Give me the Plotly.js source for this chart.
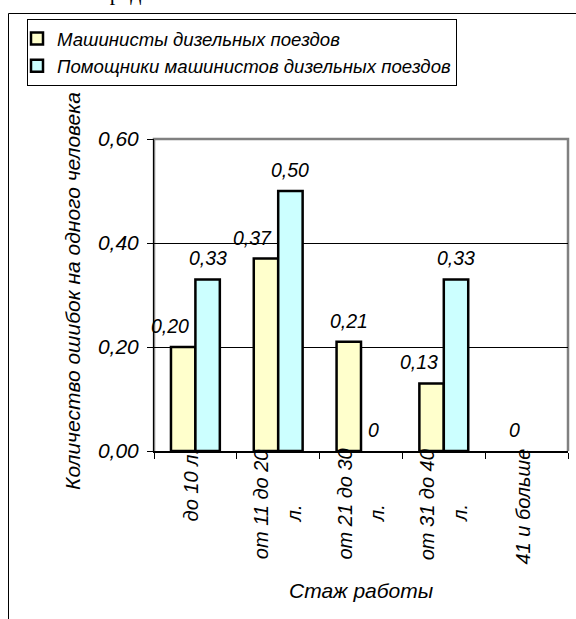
<!DOCTYPE html>
<html>
<head>
<meta charset="utf-8">
<script src="https://cdn.plot.ly/plotly-3.0.1.min.js"></script>
<style>html,body{margin:0;padding:0;background:#fff;}#chart{width:576px;height:619px;}</style>
</head>
<body>
<div id="chart"></div>
<script>
// ---- data ----
const categories = ["до 10 л.", "от 11 до 20 л.", "от 21 до 30 л.", "от 31 до 40 л.", "41 и больше"];
const tickLabelLines = [["до 10 л."], ["от 11 до 20", "л."], ["от 21 до 30", "л."], ["от 31 до 40", "л."], ["41 и больше"]];
const drivers = [0.20, 0.37, 0.21, 0.13, 0];
const assistants = [0.33, 0.50, 0, 0.33, null];
const seriesNames = ["Машинисты дизельных поездов", "Помощники машинистов дизельных поездов"];
const xTitle = "Стаж работы";
const yTitle = "Количество ошибок на одного человека";
const pageText = "пред";

// ---- styling ----
const FONT = "Liberation Sans, Arial, sans-serif";
const FS = 19.5;
const bargap = 0.41;
const W = 576, H = 619;
const M = {l: 154, r: 8, t: 139, b: 168};
const plotH = H - M.t - M.b, plotW = W - M.l - M.r;
const py = p => (H - M.b - p) / plotH;   // pixel row -> paper y
const px = p => (p - M.l) / plotW;       // pixel col -> paper x

const fmt = v => v === 0 ? "0" : v.toFixed(2).replace(".", ",");
const half = (1 - bargap) / 4;
const lineW = arr => arr.map(v => (v === null || v === 0) ? 0 : 2.5);

const annotations = [];
// data labels
drivers.forEach((v, i) => {
  if (v === null) return;
  const neighbourTaller = assistants[i] !== null && assistants[i] > v;
  annotations.push({x: i - half, y: v, xref: "x", yref: "y", text: fmt(v), showarrow: false,
    xshift: neighbourTaller ? -13 : 0, yshift: 21, yanchor: "middle",
    font: {family: FONT, size: FS, style: "italic", color: "#000"}});
});
assistants.forEach((v, i) => {
  if (v === null) return;
  annotations.push({x: i + half, y: v, xref: "x", yref: "y", text: fmt(v), showarrow: false,
    yshift: 21, yanchor: "middle",
    font: {family: FONT, size: FS, style: "italic", color: "#000"}});
});
// category labels (rotated, Excel-style wrapping)
tickLabelLines.forEach((lines, i) => {
  lines.forEach((t, k) => {
    let xs = -4;
    if (lines.length === 2) xs = k === 0 ? -17 : 16;
    const first = k === 0;
    annotations.push({x: i, y: first ? py(447) : py(513), xref: "x", yref: "paper", text: t, textangle: -90,
      showarrow: false, xshift: xs, xanchor: "center", yanchor: first ? "top" : "middle",
      font: {family: FONT, size: 20, style: "italic", color: "#000"}});
  });
});
// axis titles
annotations.push({x: 0.5, y: py(590), xref: "paper", yref: "paper", text: xTitle, showarrow: false,
  xanchor: "center", yanchor: "middle", font: {family: FONT, size: 21, style: "italic", color: "#000"}});
annotations.push({x: px(72), y: py(492), xref: "paper", yref: "paper", text: yTitle, showarrow: false,
  textangle: -90, xanchor: "center", yanchor: "bottom", font: {family: FONT, size: 21, style: "italic", color: "#000"}});
// cut text of the surrounding document
annotations.push({x: px(96), y: py(7), xref: "paper", yref: "paper", text: pageText, showarrow: false,
  xanchor: "left", yanchor: "bottom", font: {family: "Liberation Serif, Times New Roman, serif", size: 22, color: "#000"}});

const traces = [
  {type: "bar", name: seriesNames[0], x: categories, y: drivers, legendgroup: "a",
   marker: {color: "#FFFFCC", line: {color: "#000", width: lineW(drivers)}}, hoverinfo: "skip"},
  {type: "bar", name: seriesNames[1], x: categories, y: assistants, legendgroup: "b",
   marker: {color: "#CCFFFF", line: {color: "#000", width: lineW(assistants)}}, hoverinfo: "skip"}
];

const layout = {
  width: W, height: H, margin: M,
  paper_bgcolor: "#fff", plot_bgcolor: "#fff",
  separators: ", ",
  barmode: "group", bargap: bargap, bargroupgap: 0,
  showlegend: true,
  legend: {x: px(27), y: py(19), xanchor: "left", yanchor: "top", xref: "paper", yref: "paper",
    bgcolor: "#fff", bordercolor: "#000", borderwidth: 1, indentation: -11,
    tracegroupgap: 4, traceorder: "normal",
    font: {family: FONT, size: 18.6, style: "italic", color: "#000"}},
  xaxis: {type: "category", range: [-0.5, 4.5], showticklabels: false, tickson: "boundaries",
    ticks: "outside", ticklen: 6, tickwidth: 1, tickcolor: "#000",
    showline: true, linecolor: "#000", linewidth: 1.5, showgrid: false, zeroline: false, fixedrange: true},
  yaxis: {range: [0, 0.6], tickvals: [0, 0.2, 0.4, 0.6], tickformat: ".2f",
    ticks: "outside", ticklen: 6, tickwidth: 1, tickcolor: "#000", ticklabelstandoff: 4,
    showline: true, linecolor: "#000", linewidth: 1, showgrid: true, gridcolor: "#000", gridwidth: 1,
    zeroline: false, fixedrange: true,
    tickfont: {family: FONT, size: 21, style: "italic", color: "#000"}},
  shapes: [
    {type: "path", xref: "paper", yref: "paper", layer: "below",
     path: "M0,0 L0,1 L1,1 L1,0", line: {color: "#808080", width: 2.5}},
    {type: "rect", xref: "paper", yref: "paper", x0: px(8.5), x1: 1.1, y0: -0.7, y1: py(13.5),
     line: {color: "#000", width: 1}, fillcolor: "rgba(0,0,0,0)", layer: "below"}
  ],
  annotations: annotations
};

Plotly.newPlot("chart", traces, layout, {staticPlot: true, displayModeBar: false});
</script>
</body>
</html>
